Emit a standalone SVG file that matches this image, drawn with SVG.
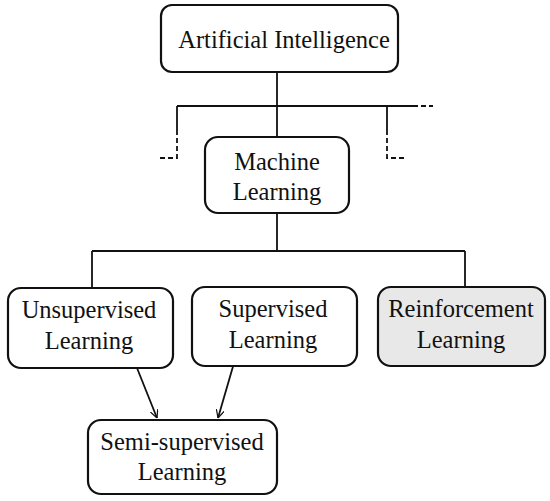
<svg xmlns="http://www.w3.org/2000/svg" width="550" height="501" viewBox="0 0 550 501">
<defs>
<style>
.box{fill:#fff;stroke:#111;stroke-width:2.2}
.grey{fill:#e8e8e8}
.t{font-family:"Liberation Serif","DejaVu Serif",serif;font-size:24.5px;fill:#111;text-anchor:middle}
.ln{stroke:#111;stroke-width:1.8;fill:none}
.ds{stroke:#111;stroke-width:1.8;fill:none;stroke-dasharray:5,3}
</style>
<marker id="ah" viewBox="0 0 10 10" refX="10" refY="5" markerWidth="8" markerHeight="8" orient="auto" markerUnits="userSpaceOnUse">
<path d="M0,0 L10,5 L0,10" fill="none" stroke="#111" stroke-width="1.5"/>
</marker>
</defs>
<rect width="550" height="501" fill="#fff"/>
<g id="connectors">
<path class="ln" d="M277,72 V106 M277,106 V137 M177,106 H413 M177,106 V130 M387,106 V130"/>
<path class="ds" d="M413,106 H433 M177,130 V158 H160 M387,130 V158 H405"/>
<path class="ln" d="M277,213 V251 M92,251 H465 M92,251 V288 M465,251 V287"/>
<line class="ln" x1="135" y1="363" x2="157" y2="418" marker-end="url(#ah)"/>
<line class="ln" x1="234" y1="363" x2="218" y2="418" marker-end="url(#ah)"/>
</g>
<g id="ai">
<rect class="box" x="161" y="5" width="237" height="67" rx="11"/>
<text class="t" x="284" y="48">Artificial Intelligence</text>
</g>
<g id="ml">
<rect class="box" x="205" y="137" width="144" height="76" rx="13"/>
<text class="t" x="277" y="170">Machine</text>
<text class="t" x="277" y="200">Learning</text>
</g>
<g id="unsup">
<rect class="box" x="8" y="288" width="165" height="80" rx="13"/>
<text class="t" x="89" y="318">Unsupervised</text>
<text class="t" x="89" y="349">Learning</text>
</g>
<g id="sup">
<rect class="box" x="192" y="287" width="165" height="79" rx="13"/>
<text class="t" x="273" y="317">Supervised</text>
<text class="t" x="273" y="348">Learning</text>
</g>
<g id="reinf">
<rect class="box grey" x="378" y="287" width="167" height="79" rx="13"/>
<text class="t" x="461" y="317">Reinforcement</text>
<text class="t" x="461" y="348">Learning</text>
</g>
<g id="semi">
<rect class="box" x="88" y="420" width="189" height="74" rx="13"/>
<text class="t" x="182" y="450">Semi-supervised</text>
<text class="t" x="182" y="480">Learning</text>
</g>
</svg>
